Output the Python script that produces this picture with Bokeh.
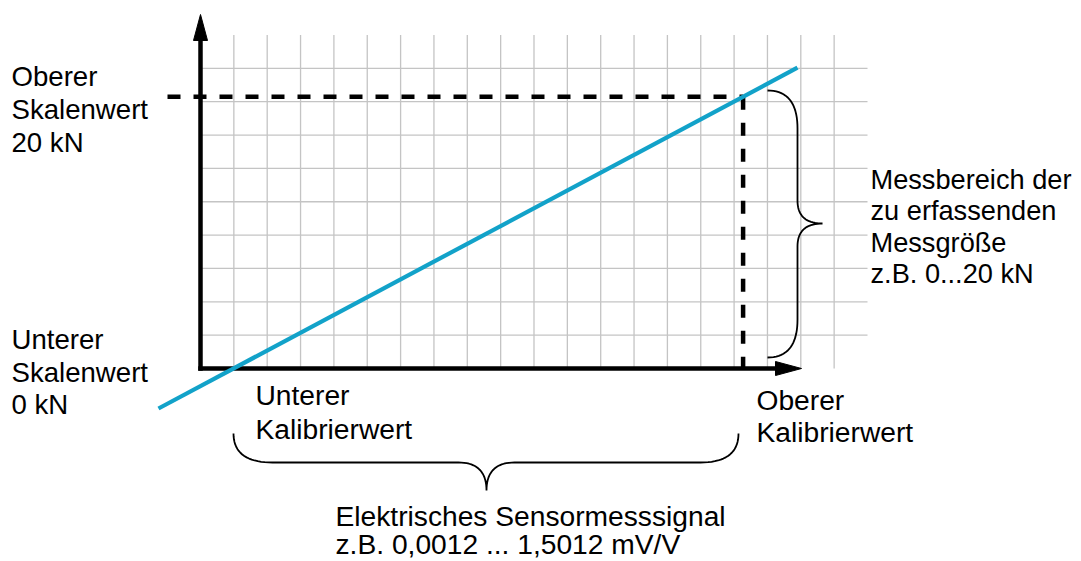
import numpy as np
from bokeh.plotting import figure
from bokeh.models import Range1d
from bokeh.core.properties import value
from bokeh.embed import file_html
from bokeh.resources import INLINE

# ---------------- data (grid units) ----------------
grid_cols = 20          # horizontal grid lines reach this many cells to the right
grid_rows = 10          # vertical grid lines reach this many cells up
kalib_x = [1.0, 16.27]          # Unterer / Oberer Kalibrierwert (signal axis)
skala_y = [0.0, 8.15]           # Unterer / Oberer Skalenwert (0 kN / 20 kN)
kennlinie_x = [-1.26, 17.9]     # characteristic line end points
kennlinie_y = [-1.2, 9.02]
skala_oben_lines = ["Oberer", "Skalenwert", "20 kN"]
skala_unten_lines = ["Unterer", "Skalenwert", "0 kN"]
kalib_unten_lines = ["Unterer", "Kalibrierwert"]
kalib_oben_lines = ["Oberer", "Kalibrierwert"]
messbereich_lines = ["Messbereich der", "zu erfassenden", "Messgröße", "z.B. 0...20 kN"]
signal_lines = ["Elektrisches Sensormesssignal", "z.B. 0,0012 ... 1,5012 mV/V"]

# ---------------- layout ----------------
W, H = 1078, 560
U = 33.35                 # pixels per grid unit
OX, OY = 200, 368         # origin on canvas (px)

def px(sx, sy):
    """canvas pixel -> data units"""
    return ((sx - OX) / U, (OY - sy) / U)

p = figure(width=W, height=H, output_backend="svg", toolbar_location=None,
           x_range=Range1d(-OX / U, (W - OX) / U),
           y_range=Range1d(-(H - OY) / U, OY / U),
           min_border=0)
p.axis.visible = False
p.grid.visible = False
p.outline_line_color = None
p.background_fill_color = "white"
p.border_fill_color = "white"

GRID = "#c4c4c4"
# vertical grid lines
vx = list(range(1, grid_cols))
p.multi_line(xs=[[x, x] for x in vx], ys=[[0, grid_rows] for _ in vx],
             line_color=GRID, line_width=1.3)
# horizontal grid lines
hy = list(range(1, grid_rows))
p.multi_line(xs=[[0, grid_cols] for _ in hy], ys=[[y, y] for y in hy],
             line_color=GRID, line_width=1.3)

# dashed reference lines
x0d, _ = px(167, 0)
p.line([x0d, kalib_x[1]], [skala_y[1], skala_y[1]], line_color="black",
       line_width=4.5, line_dash="13 13")
p.line([kalib_x[1], kalib_x[1]], [skala_y[1], skala_y[0]], line_color="black",
       line_width=4.5, line_dash="13 13")

# axes
aw = 4.5
p.line([0, 0], [-aw / 2 / U, px(0, 38)[1]], line_color="black", line_width=aw)
p.line([-aw / 2 / U, px(778, 0)[0]], [0, 0], line_color="black", line_width=aw)
# arrow heads
t1 = [px(200, 14), px(193, 40), px(207, 40)]
t2 = [px(801, 368), px(775, 361), px(775, 375)]
p.patches(xs=[[a[0] for a in t1], [a[0] for a in t2]],
          ys=[[a[1] for a in t1], [a[1] for a in t2]],
          fill_color="black", line_color="black", line_width=1)

# characteristic line
p.line(kennlinie_x, kennlinie_y, line_color="#12a2c9", line_width=4.2)

# braces
def quad(p0, c, p1, n=20):
    t = np.linspace(0, 1, n)[:, None]
    p0, c, p1 = map(np.array, (p0, c, p1))
    return ((1 - t) ** 2) * p0 + 2 * (1 - t) * t * c + (t ** 2) * p1

def brace_path(pts):
    segs = []
    for seg in pts:
        if len(seg) == 3:
            segs.append(quad(*seg))
        else:
            segs.append(np.array(seg))
    return np.vstack(segs)

# right brace (canvas px)
rb = brace_path([
    [(767, 90), (797, 90), (797, 128)],
    [(797, 128), (797, 200)],
    [(797, 200), (797, 223), (822, 223)],
    [(822, 223), (797, 223), (797, 246)],
    [(797, 246), (797, 319)],
    [(797, 319), (797, 357), (767, 357)],
])
# bottom brace
bb = brace_path([
    [(233, 433), (233, 462), (272, 462)],
    [(272, 462), (458, 462)],
    [(458, 462), (486, 462), (486, 490)],
    [(486, 490), (486, 462), (514, 462)],
    [(514, 462), (700, 462)],
    [(700, 462), (738, 462), (738, 433)],
])
for b in (rb, bb):
    d = np.array([px(x, y) for x, y in b])
    p.line(d[:, 0], d[:, 1], line_color="black", line_width=1.8)

# texts
FONT = value("Liberation Sans")
SHIFT = -9
def block(lines, sx, base, step, size):
    xs, ys = [], []
    for i, _ in enumerate(lines):
        x, y = px(sx, base + SHIFT + i * step)
        xs.append(x); ys.append(y)
    p.text(x=xs, y=ys, text=lines, text_font=FONT, text_font_size=size,
           text_color="black", text_baseline="alphabetic", text_align="left")

block(skala_oben_lines, 11, 85, 33, "27.6px")
block(skala_unten_lines, 11, 348, 32.5, "27.6px")
block(messbereich_lines, 870, 188, 31.3, "27.2px")
block(kalib_unten_lines, 255, 403, 34, "28.2px")
block(kalib_oben_lines, 756, 408, 32, "28.2px")
block(signal_lines, 335, 524, 28.5, "28.2px")

open("out.html", "w").write(file_html(p, INLINE))
